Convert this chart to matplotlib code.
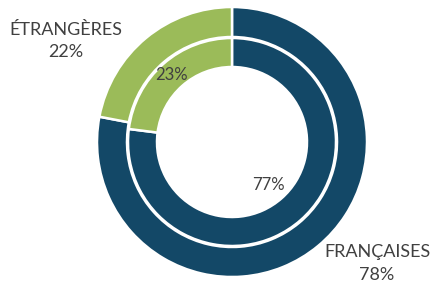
import matplotlib
matplotlib.use("Agg")
import matplotlib.pyplot as plt

# Data
categories = ["FRANÇAISES", "ÉTRANGÈRES"]
outer_vals = [78, 22]
inner_vals = [77, 23]

BLUE = "#134867"
GREEN = "#9bbb59"
TXT = "#404040"

plt.rcParams["font.family"] = ["Lato", "DejaVu Sans"]

fig = plt.figure(figsize=(4.33, 2.89), dpi=100)
ax = fig.add_axes([0, 0, 1, 1])

cx, cy = 232, 147
r_out, w_out = 135, 30
r_in, w_in = 104, 29

ax.pie(outer_vals, radius=r_out, center=(cx, cy), startangle=90, counterclock=False,
       colors=[BLUE, GREEN], wedgeprops=dict(width=w_out, edgecolor="white", linewidth=1.8),
       frame=True)
ax.pie(inner_vals, radius=r_in, center=(cx, cy), startangle=90, counterclock=False,
       colors=[BLUE, GREEN], wedgeprops=dict(width=w_in, edgecolor="white", linewidth=1.8),
       frame=True)
ax.set_xlim(0, 433)
ax.set_ylim(0, 289)
ax.set_aspect("equal")
ax.axis("off")

# outer labels
ax.text(377, 289 - 252, categories[0], ha="center", va="center", fontsize=13, color=TXT)
ax.text(377, 289 - 275, f"{outer_vals[0]}%", ha="center", va="center", fontsize=13, color=TXT)
ax.text(66, 289 - 30, categories[1], ha="center", va="center", fontsize=13, color=TXT)
ax.text(66, 289 - 52, f"{outer_vals[1]}%", ha="center", va="center", fontsize=13, color=TXT)

# inner labels
ax.text(268, 289 - 185, f"{inner_vals[0]}%", ha="center", va="center", fontsize=12, color=TXT)
ax.text(171, 289 - 75, f"{inner_vals[1]}%", ha="center", va="center", fontsize=12, color=TXT)

fig.savefig("out.png", dpi=100)
